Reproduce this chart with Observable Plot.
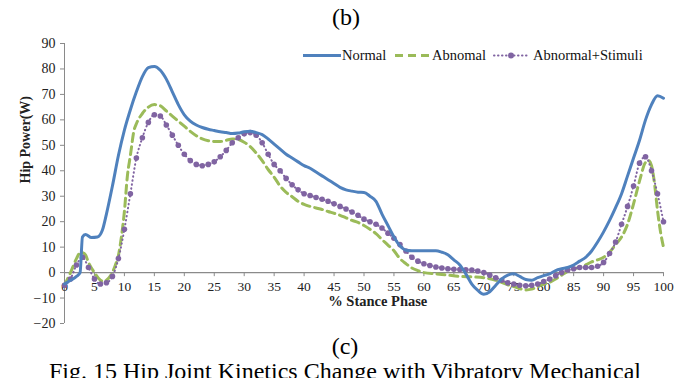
<!DOCTYPE html>
<html>
<head>
<meta charset="utf-8">
<script src="https://cdn.jsdelivr.net/npm/d3@7"></script>
<script src="https://cdn.jsdelivr.net/npm/@observablehq/plot@0.6"></script>
<style>
  html, body { margin: 0; padding: 0; background: #fff; }
  body { width: 694px; height: 378px; overflow: hidden; position: relative; font-family: "Liberation Serif", "Times New Roman", serif; }
  .abs { position: absolute; white-space: nowrap; }
  #chart { position: absolute; left: 0; top: 32px; }
  .lg { position: absolute; top: 47px; font-size: 14.5px; line-height: 16px; color: #111; white-space: nowrap; }
  .lgs { position: absolute; top: 50px; display: block; }
</style>
</head>
<body>
<div class="abs" style="left:0;top:5px;width:692px;text-align:center;font-size:24px;line-height:24px;">(b)</div>
<div id="chart"></div>
<svg class="lgs" style="left:303px" width="38" height="11"><line x1="0" y1="5.5" x2="38" y2="5.5" stroke="#4F81BD" stroke-width="3"/></svg>
<div class="lg" style="left:342px">Normal</div>
<svg class="lgs" style="left:395px" width="34" height="11"><line x1="0" y1="5.5" x2="34" y2="5.5" stroke="#9BBB59" stroke-width="3" stroke-dasharray="8,5"/></svg>
<div class="lg" style="left:432px">Abnomal</div>
<svg class="lgs" style="left:493px" width="38" height="11"><line x1="1" y1="5.5" x2="37" y2="5.5" stroke="#8064A2" stroke-width="2" stroke-dasharray="0.5,3.5" stroke-linecap="round"/><circle cx="18" cy="5.5" r="3" fill="#8064A2"/></svg>
<div class="lg" style="left:533px">Abnormal+Stimuli</div>
<div class="abs" style="left:0;top:334px;width:690px;text-align:center;font-size:24px;line-height:24px;">(c)</div>
<div class="abs" style="left:0;top:359px;width:690px;text-align:center;font-size:24px;line-height:24px;">Fig. 15 Hip Joint Kinetics Change with Vibratory Mechanical</div>
<script>
// ---- data ----
const normalX = [0,1,2,2.6,3,3.5,4.5,5.5,6.3,7,8,9,10,11,12,13,14,15,16,17,18,19,20,21,22,23,24,25,26,27,28,29,30,31,32,33,34,35,36,37,38,39,40,41,42,43,44,45,46,47,48,49,50,51,52,53,54,55,56,57,58,60,62,63,64,65,66,67,68,69,70,71,72,73,74,75,76,77,78,79,80,81,82,83,84,85,86,87,88,89,90,91,92,93,94,95,96,97,98,99,100];
const normalY = [-4.5,-3,-1.5,0,14,15,13.8,14,16.5,23,34,46,56,64,71,77,80.5,81,79.5,76,71,66,62,59.5,58,57,56.3,55.8,55.3,55,54.6,54.8,55.3,55.5,55,54.2,52.5,50.5,48.5,46.5,45,43.5,42,41,39.5,38,36.5,35,33.5,32.5,32,31.6,31.5,30,28,23,18.5,14,10.5,8.8,8.6,8.6,8.6,8,7,5,3,-0.5,-4.5,-7,-8.5,-7.5,-5,-2.5,-1,-0.5,-1.5,-2.7,-3,-2,-1.2,-0.5,0.8,1.5,2,3,4.5,6,8.5,12,16,20.5,25.5,31,38,45,52,60,66,69.5,68.5];

const abnormalX = [0,1,2,2.5,3,3.5,4,5,6,6.5,7,7.7,8.5,9,9.5,10,10.5,11,11.6,12,13,14,15,16,17,18,19,20,21,22,23,24,25,26,27,28,29,30,31,32,33,34,35,36,37,38,39,40,41,42,43,44,45,46,47,48,49,50,51,52,53,54,55,56,57,58,59,60,62,64,66,68,70,72,74,75,76,77,78,79,80,81,82,83,84,85,86,87,88,89,90,91,92,93,94,95,96,97,97.5,98,98.5,99,99.5,100];
const abnormalY = [-5,0,5.5,7.5,7.8,7,4,0,-3,-3.5,-3,-1.2,3,6.7,14,24,38,46,55.8,58.5,62.5,65,66,65.5,63.5,61.5,59.5,57.5,55.5,53.8,52.5,51.8,51.5,51.5,52,52.5,52.3,51.2,49.5,47,44,40.5,37.5,34,31.5,29.8,28,26.8,26,25.4,24.8,24,23.3,22.5,21.5,20.5,19.7,18.5,17,15.3,13,10.8,8.6,5.5,3.5,1.8,0.8,0,-0.5,-1,-1.5,-1.7,-2,-3,-4.8,-5.5,-6.3,-6.8,-6.5,-5.5,-4.5,-3.8,-2.5,-1,0.5,1.4,2.1,3,4.2,5,6,8,11,14,19,27,36,43.3,44,42,35,24.4,16,10];

const stimuliX = [0,1,2,3,4,5,6,7,8,9,10,11,12,13,14,15,16,17,18,19,20,21,22,23,24,25,26,27,28,29,30,31,32,33,34,35,36,37,38,39,40,41,42,43,44,45,46,47,48,49,50,51,52,53,54,55,56,57,58,59,60,61,62,63,64,65,66,67,68,69,70,71,72,73,74,75,76,77,78,79,80,81,82,83,84,85,86,87,88,89,90,91,92,93,94,95,96,97,98,99,100];
const stimuliY = [-5,-2.5,3,6,2,-2.5,-4.5,-4,-1.5,5.5,17,31,45,53,59,62,61.5,58,54,50,46.5,44,42.5,42,42.5,43.5,45.5,48,51,53,54.5,55,54,51,46.5,42.5,40,37,34.5,32.5,31,30.3,29.5,28.8,28,27,26,25,23.8,22.5,21,20,19,17.5,15.5,13.5,11,8.5,6,4.5,3.5,2.8,2.2,1.8,1.5,1.3,1.2,1.1,1,0.6,0,-1,-2,-3,-4,-4.5,-5,-5.2,-5,-4.5,-3.5,-2.5,-1.2,0,1,1.5,2,2,2,2.5,4,7.5,12,19,26,34,43,45.5,40,31,20];

const xTicks = [0,5,10,15,20,25,30,35,40,45,50,55,60,65,70,75,80,85,90,95,100];
const yTicks = [-20,-10,0,10,20,30,40,50,60,70,80,90];

const normal = normalX.map((x, i) => ({x, y: normalY[i]}));
const abnormal = abnormalX.map((x, i) => ({x, y: abnormalY[i]}));
const stimuli = stimuliX.map((x, i) => ({x, y: stimuliY[i]}));

const axisGray = "#8a8a8a";

const chart = Plot.plot({
  width: 694,
  height: 300,
  marginLeft: 64,
  marginRight: 31,
  marginTop: 11,
  marginBottom: 9,
  style: {fontFamily: "'Liberation Serif', 'Times New Roman', serif", color: "#222", background: "white"},
  x: {domain: [0, 100], axis: null},
  y: {domain: [-20, 90], axis: null},
  marks: [
    // y axis line, ticks and labels
    Plot.ruleX([0], {stroke: axisGray, strokeWidth: 1}),
    Plot.axisY(yTicks, {anchor: "left", tickSize: 4, tickPadding: 5, fontSize: 14, stroke: axisGray, label: null}),
    // x axis at y = 0
    Plot.ruleY([0], {stroke: axisGray, strokeWidth: 1.3}),
    Plot.ruleX(xTicks, {x: d => d, y1: 0, y2: -1.6, stroke: axisGray}),
    Plot.text(xTicks, {x: d => d, y: 0, dy: 14.5, text: d => String(d), fontSize: 13.5, fill: "#222"}),
    // axis titles
    Plot.text(["% Stance Phase"], {frameAnchor: "bottom", x: 52.3, y: -20, dy: -17.5, text: d => d, fontSize: 14.5, fontWeight: "bold", fill: "#222"}),
    Plot.text(["Hip Power(W)"], {frameAnchor: "left", dx: -39, rotate: -90, text: d => d, fontSize: 14, fontWeight: "bold", fill: "#222"}),
    // series
    Plot.line(abnormal, {x: "x", y: "y", stroke: "#9BBB59", strokeWidth: 3, strokeDasharray: "8,5", curve: "monotone-x"}),
    Plot.line(stimuli, {x: "x", y: "y", stroke: "#8064A2", strokeWidth: 2, strokeDasharray: "0.5,3.5", strokeLinecap: "round", curve: "monotone-x"}),
    Plot.dot(stimuli, {x: "x", y: "y", r: 2.8, fill: "#8064A2", stroke: "none"}),
    Plot.line(normal, {x: "x", y: "y", stroke: "#4F81BD", strokeWidth: 3, curve: "monotone-x"})
  ]
});
document.getElementById("chart").appendChild(chart);
</script>
</body>
</html>
